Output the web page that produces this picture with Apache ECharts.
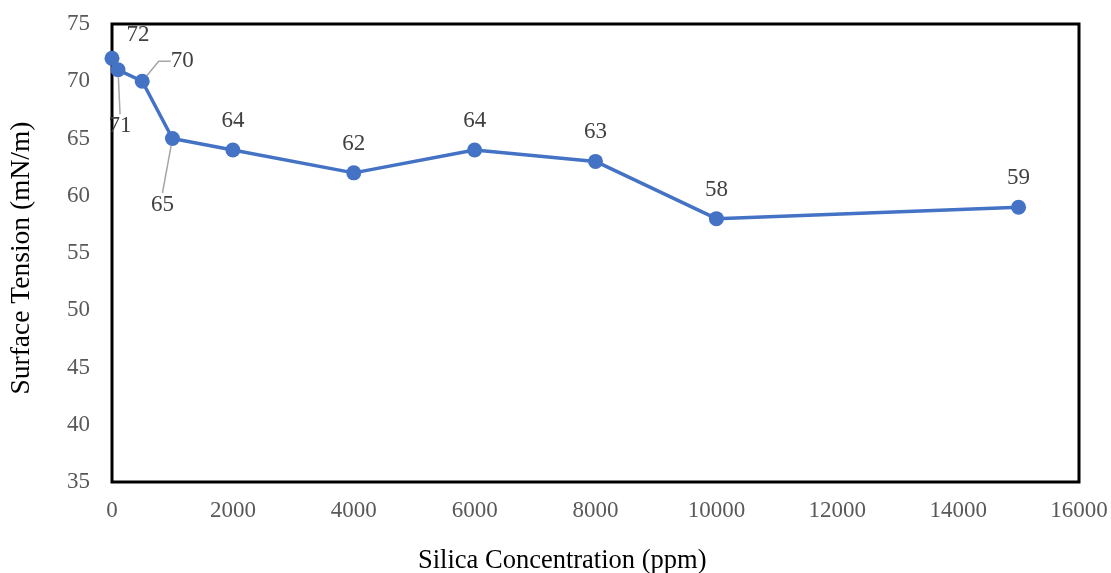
<!DOCTYPE html>
<html><head><meta charset="utf-8">
<script src="https://cdn.jsdelivr.net/npm/echarts@6/dist/echarts.min.js"></script>
<style>html,body{margin:0;padding:0;background:#fff}#c{width:1111px;height:573px}</style>
</head><body><div id="c"></div>
<script>
const concentration = [0, 100, 500, 1000, 2000, 4000, 6000, 8000, 10000, 15000];
const surfaceTension = [72, 71, 70, 65, 64, 62, 64, 63, 58, 59];
const xTitle = 'Silica Concentration (ppm)';
const yTitle = 'Surface Tension (mN/m)';

const FONT = '"Liberation Serif", "Times New Roman", serif';
const leader = { show: true, lineStyle: { color: '#a6a6a6', width: 1.5 } };

const data = concentration.map((x, i) => {
  const item = { value: [x, surfaceTension[i]] };
  if (i === 1) { item.label = { padding: [8, 0] }; item.labelLine = Object.assign({ length2: 0 }, leader); }
  if (i === 2) { item.label = { padding: [0, 8] }; item.labelLine = Object.assign({ length2: 12 }, leader); }
  if (i === 3) { item.label = { padding: [9, 0] }; item.labelLine = Object.assign({ length2: 0 }, leader); }
  return item;
});

const moves = { 0: [26, -23], 1: [2, 56], 2: [40, -20], 3: [-10, 66] };

const chart = echarts.init(document.getElementById('c'), null, { renderer: 'canvas' });
chart.setOption({
  backgroundColor: '#fff',
  animation: false,
  textStyle: { fontFamily: FONT },
  grid: { left: 112, right: 32, top: 24, bottom: 91, show: true, borderColor: '#000', borderWidth: 3, backgroundColor: 'transparent' },
  xAxis: {
    type: 'value', min: 0, max: 16000, interval: 2000,
    axisLine: { show: false }, axisTick: { show: false }, splitLine: { show: false },
    axisLabel: { fontSize: 23, color: '#595959', fontFamily: FONT, margin: 17, formatter: v => String(v) }
  },
  yAxis: {
    type: 'value', min: 35, max: 75, interval: 5,
    axisLine: { show: false }, axisTick: { show: false }, splitLine: { show: false },
    axisLabel: { fontSize: 23, color: '#595959', fontFamily: FONT, margin: 22, padding: [6, 0, 0, 0] }
  },
  graphic: [
    { type: 'text', left: 418, top: 548, style: { text: xTitle, fontSize: 26.5, fill: '#000', fontFamily: FONT } },
    { type: 'text', x: 22, y: 258, rotation: Math.PI / 2, style: { text: yTitle, fontSize: 27.5, fill: '#000', fontFamily: FONT, align: 'center', verticalAlign: 'middle' } }
  ],
  series: [{
    type: 'line',
    data: data,
    symbol: 'circle',
    symbolSize: 15,
    lineStyle: { color: '#4472C4', width: 3.5 },
    itemStyle: { color: '#4472C4' },
    label: { show: true, position: 'top', distance: 10, fontSize: 23, color: '#404040', fontFamily: FONT },
    labelLine: { show: false },
    labelLayout: function (p) {
      const m = moves[p.dataIndex];
      if (!m) return {};
      const cx = p.rect.x + p.rect.width / 2, cy = p.rect.y + p.rect.height / 2;
      return { x: cx + m[0], y: cy + m[1], align: 'center', verticalAlign: 'middle' };
    }
  }]
});
</script></body></html>
